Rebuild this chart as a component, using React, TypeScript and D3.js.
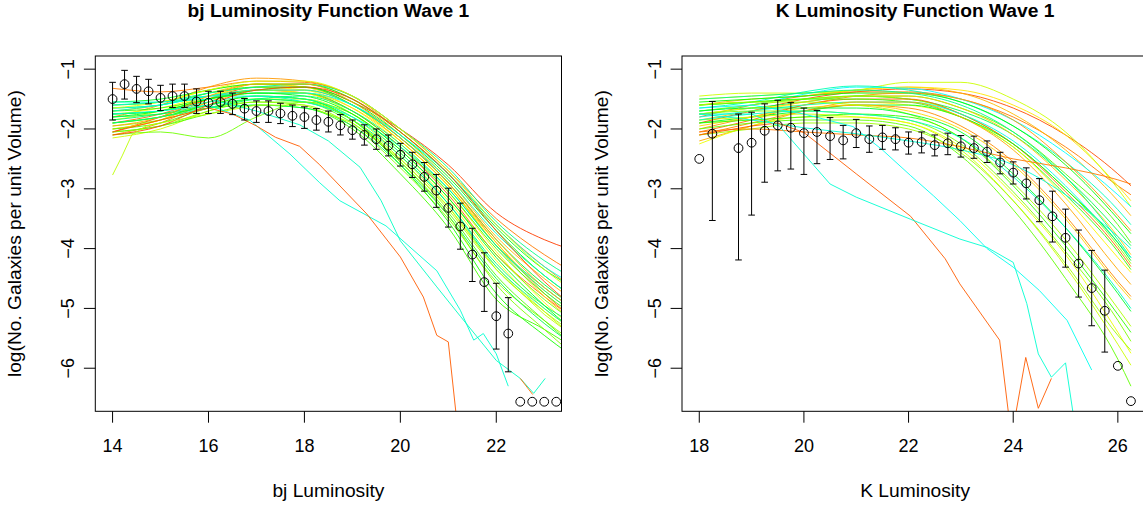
import React from 'react';
import * as d3 from 'd3';

// ---------- axes ----------
const yTicks = [-1, -2, -3, -4, -5, -6];
const bjTicks = [14, 16, 18, 20, 22];
const kTicks = [18, 20, 22, 24, 26];

// ---------- bj panel: model runs on a common grid ----------
const bjGrid = [14, 15, 16, 17, 18, 19, 20, 21, 22, 23, 23.5];
const bjRuns: number[][] = [
  [-2.05, -1.8, -1.5, -1.3, -1.3, -1.55, -2.0, -2.6, -3.4, -3.85, -4.0],
  [-1.32, -1.38, -1.3, -1.2, -1.22, -1.45, -2.0, -2.7, -3.5, -4.1, -4.35],
  [-1.8, -1.6, -1.3, -1.15, -1.2, -1.45, -2.05, -2.75, -3.6, -4.3, -4.6],
  [-2.0, -1.85, -1.5, -1.25, -1.25, -1.5, -2.1, -2.85, -3.8, -4.5, -4.8],
  [-1.7, -1.6, -1.4, -1.25, -1.3, -1.6, -2.2, -2.95, -3.95, -4.65, -4.95],
  [-2.1, -1.9, -1.55, -1.35, -1.35, -1.6, -2.15, -2.9, -3.9, -4.75, -5.1],
  [-1.9, -1.75, -1.5, -1.35, -1.4, -1.7, -2.3, -3.1, -4.1, -4.8, -5.1],
  [-1.6, -1.55, -1.35, -1.25, -1.3, -1.6, -2.2, -2.95, -3.9, -4.7, -5.0],
  [-1.85, -1.7, -1.45, -1.3, -1.35, -1.65, -2.25, -3.05, -4.05, -4.9, -5.25],
  [-2.0, -1.85, -1.55, -1.4, -1.4, -1.65, -2.2, -2.95, -3.95, -4.8, -5.15],
  [-1.75, -1.65, -1.45, -1.35, -1.4, -1.75, -2.4, -3.2, -4.2, -5.0, -5.3],
  [-1.9, -1.8, -1.6, -1.45, -1.5, -1.85, -2.5, -3.35, -4.35, -5.05, -5.35],
  [-2.15, -2.0, -1.7, -1.5, -1.5, -1.8, -2.45, -3.3, -4.3, -5.05, -5.4],
  [-1.95, -1.85, -1.65, -1.55, -1.6, -1.95, -2.65, -3.5, -4.55, -5.2, -5.5],
  [-2.1, -2.05, -2.15, -1.8, -1.55, -1.75, -2.35, -3.15, -4.1, -4.85, -5.15],
  [-1.7, -1.65, -1.5, -1.4, -1.4, -1.7, -2.3, -3.05, -4.0, -4.75, -5.05],
  [-1.8, -1.7, -1.5, -1.35, -1.3, -1.55, -2.1, -2.8, -3.7, -4.45, -4.75],
  [-2.0, -1.9, -1.65, -1.5, -1.55, -1.9, -2.55, -3.4, -4.45, -5.2, -5.55],
  [-1.55, -1.5, -1.35, -1.25, -1.25, -1.5, -2.05, -2.75, -3.65, -4.35, -4.6],
  [-1.9, -1.8, -1.6, -1.45, -1.5, -1.85, -2.6, -3.55, -4.75, -5.45, -5.75],
  [-2.05, -1.95, -1.75, -1.6, -1.65, -2.0, -2.75, -3.65, -4.85, -5.35, -5.6],
  [-1.65, -1.6, -1.4, -1.3, -1.3, -1.6, -2.15, -2.9, -3.85, -4.6, -4.9],
  [-1.6, -1.55, -1.4, -1.3, -1.25, -1.45, -2.0, -2.65, -3.55, -4.2, -4.45],
  [-1.7, -1.6, -1.45, -1.35, -1.35, -1.6, -2.15, -2.85, -3.75, -4.45, -4.75],
  [-1.65, -1.6, -1.45, -1.4, -1.4, -1.6, -2.1, -2.75, -3.6, -4.3, -4.55],
  [-1.75, -1.7, -1.55, -1.45, -1.5, -1.8, -2.4, -3.25, -4.3, -5.0, -5.3],
  [-1.85, -1.75, -1.6, -1.5, -1.55, -1.85, -2.45, -3.25, -4.25, -4.95, -5.2],
  [-1.55, -1.55, -1.45, -1.45, -1.55, -1.8, -2.3, -3.0, -3.95, -4.65, -4.95],
  [-1.8, -1.75, -1.65, -1.6, -1.65, -1.95, -2.6, -3.45, -4.5, -5.25, -5.55],
  [-1.65, -1.55, -1.35, -1.2, -1.2, -1.45, -2.0, -2.7, -3.6, -4.35, -4.65],
  [-1.75, -1.7, -1.5, -1.4, -1.45, -1.75, -2.35, -3.15, -4.15, -4.95, -5.3],
  [-1.95, -1.8, -1.45, -1.25, -1.25, -1.55, -2.15, -2.9, -3.85, -4.65, -4.95],
  [-2.05, -1.95, -1.7, -1.55, -1.55, -1.85, -2.55, -3.45, -4.6, -5.35, -5.7],
  [-1.9, -1.8, -1.65, -1.5, -1.45, -1.7, -2.25, -3.0, -3.95, -4.7, -5.0],
  [-2.1, -1.95, -1.6, -1.35, -1.3, -1.5, -2.05, -2.75, -3.7, -4.55, -4.9],
];
const bjHues = [0.04, 0.08, 0.10, 0.12, 0.13, 0.09, 0.07, 0.15, 0.16, 0.14, 0.17, 0.22, 0.20, 0.24,
  0.26, 0.30, 0.33, 0.28, 0.35, 0.32, 0.29, 0.36, 0.42, 0.45, 0.48, 0.44, 0.40, 0.47, 0.38,
  0.19, 0.34, 0.11, 0.25, 0.41, 0.05];

// bj panel: runs that leave the bundle (own x positions)
const bjOddRuns: [number, number][][] = [
  [[14, -2.77], [14.2, -2.45], [14.4, -2.1], [14.7, -1.95], [15, -1.9], [16, -1.75], [17, -1.6], [18, -1.6], [19, -1.9], [20, -2.5], [21, -3.3], [22, -4.35], [23, -5.1], [23.5, -5.4]],
  [[14, -1.75], [15, -1.7], [16, -1.6], [16.86, -1.85], [17.7, -2.42], [18.32, -2.9], [18.74, -3.2], [19.7, -3.62], [20.76, -4.37], [21.25, -5.03], [21.53, -5.53], [21.73, -5.42], [22.0, -5.76], [22.25, -6.3]],
  [[14, -1.6], [15, -1.55], [16, -1.5], [17, -1.7], [17.9, -1.93], [18.5, -2.2], [19.16, -2.64], [19.6, -3.2], [20, -3.87], [20.76, -4.64], [21.25, -5.13], [22.0, -5.87], [22.5, -6.17], [22.78, -6.42], [23.02, -6.17]],
  [[14, -2.05], [15, -1.85], [16, -1.65], [16.5, -1.75], [17, -1.95], [17.4, -2.14], [17.9, -2.29], [18.32, -2.6], [19.3, -3.42], [20, -4.14], [20.48, -4.81], [20.76, -5.45], [21, -5.56], [21.18, -6.9]],
  [[22.5, -6.17], [22.76, -6.44]],
];
const bjOddHues = [0.21, 0.47, 0.46, 0.06, 0.07];

// bj panel: observed luminosity function
const bjObsX = [14, 14.25, 14.5, 14.75, 15, 15.25, 15.5, 15.75, 16, 16.25, 16.5, 16.75, 17, 17.25, 17.5, 17.75,
  18, 18.25, 18.5, 18.75, 19, 19.25, 19.5, 19.75, 20, 20.25, 20.5, 20.75, 21, 21.25, 21.5, 21.75, 22, 22.25,
  22.5, 22.75, 23, 23.25];
const bjObsY = [-1.50, -1.25, -1.33, -1.37, -1.48, -1.45, -1.45, -1.54, -1.56, -1.55, -1.58, -1.66, -1.70, -1.70,
  -1.74, -1.78, -1.80, -1.85, -1.88, -1.94, -2.02, -2.10, -2.17, -2.28, -2.43, -2.59, -2.80, -3.03, -3.32, -3.63,
  -4.10, -4.56, -5.13, -5.42, -6.56, -6.56, -6.56, -6.56];
const bjObsHi: (number | null)[] = [-1.22, -1.02, -1.12, -1.17, -1.27, -1.25, -1.25, -1.33, -1.37, -1.37, -1.40, -1.49,
  -1.53, -1.53, -1.57, -1.60, -1.63, -1.66, -1.70, -1.76, -1.85, -1.93, -2.00, -2.10, -2.24, -2.39, -2.56, -2.76,
  -2.99, -3.24, -3.66, -4.07, -4.58, -4.82, null, null, null, null];
const bjObsLo: (number | null)[] = [-1.85, -1.50, -1.56, -1.58, -1.69, -1.64, -1.64, -1.74, -1.74, -1.74, -1.76, -1.85,
  -1.89, -1.89, -1.91, -1.96, -1.99, -2.02, -2.05, -2.10, -2.17, -2.27, -2.34, -2.45, -2.62, -2.81, -3.04, -3.31,
  -3.64, -4.01, -4.55, -5.05, -5.68, -6.06, null, null, null, null];

// ---------- K panel ----------
const kGrid = [18, 19, 20, 21, 22, 23, 24, 25, 26, 26.25];
const kRuns: number[][] = [
  [-1.9, -1.7, -1.5, -1.38, -1.33, -1.4, -1.65, -2.1, -2.75, -2.95],
  [-1.8, -1.6, -1.45, -1.38, -1.38, -1.5, -1.8, -2.3, -2.95, -3.1],
  [-1.6, -1.5, -1.45, -1.35, -1.3, -1.4, -1.75, -2.35, -3.2, -3.45],
  [-1.5, -1.45, -1.4, -1.35, -1.3, -1.35, -1.6, -2.1, -2.95, -3.2],
  [-1.45, -1.4, -1.4, -1.35, -1.22, -1.22, -1.5, -2.05, -3.0, -3.3],
  [-1.7, -1.6, -1.42, -1.3, -1.32, -1.5, -1.85, -2.4, -3.1, -3.3],
  [-1.65, -1.55, -1.38, -1.28, -1.35, -1.55, -1.95, -2.55, -3.35, -3.6],
  [-1.55, -1.5, -1.45, -1.4, -1.4, -1.55, -1.95, -2.6, -3.5, -3.75],
  [-2.0, -1.8, -1.6, -1.45, -1.4, -1.5, -1.85, -2.55, -3.45, -3.7],
  [-1.6, -1.55, -1.5, -1.45, -1.45, -1.65, -2.05, -2.75, -3.6, -3.9],
  [-1.75, -1.65, -1.55, -1.45, -1.5, -1.7, -2.1, -2.8, -3.7, -3.95],
  [-1.85, -1.7, -1.55, -1.45, -1.45, -1.65, -2.1, -2.85, -3.8, -4.1],
  [-1.5, -1.45, -1.4, -1.35, -1.4, -1.6, -2.05, -2.8, -3.85, -4.15],
  [-1.7, -1.6, -1.5, -1.45, -1.5, -1.75, -2.25, -3.0, -3.95, -4.25],
  [-2.05, -1.85, -1.6, -1.5, -1.5, -1.75, -2.25, -3.05, -4.0, -4.3],
  [-1.6, -1.55, -1.5, -1.5, -1.55, -1.8, -2.3, -3.1, -4.05, -4.35],
  [-1.75, -1.65, -1.6, -1.55, -1.6, -1.8, -2.3, -3.15, -4.15, -4.4],
  [-1.8, -1.7, -1.6, -1.55, -1.55, -1.75, -2.2, -2.95, -3.9, -4.15],
  [-1.9, -1.8, -1.7, -1.6, -1.6, -1.8, -2.25, -3.0, -3.9, -4.2],
  [-2.2, -1.95, -1.7, -1.55, -1.55, -1.8, -2.35, -3.25, -4.35, -4.6],
  [-2.1, -1.9, -1.7, -1.6, -1.65, -1.95, -2.55, -3.45, -4.55, -4.8],
  [-1.95, -1.8, -1.65, -1.6, -1.7, -2.0, -2.6, -3.5, -4.6, -4.85],
  [-1.6, -1.55, -1.55, -1.6, -1.75, -2.15, -2.9, -3.85, -5.0, -5.3],
  [-1.75, -1.7, -1.7, -1.75, -1.85, -2.25, -3.05, -4.05, -5.2, -5.55],
  [-1.85, -1.8, -1.75, -1.8, -1.9, -2.35, -3.2, -4.3, -5.6, -5.95],
  [-2.0, -1.9, -1.85, -1.85, -1.95, -2.45, -3.35, -4.5, -5.85, -6.3],
  [-2.25, -1.95, -1.8, -1.8, -1.9, -2.3, -3.1, -4.1, -5.4, -5.75],
  [-1.9, -1.85, -1.8, -1.75, -1.8, -2.15, -2.95, -3.95, -5.1, -5.4],
  [-1.7, -1.65, -1.65, -1.65, -1.75, -2.05, -2.75, -3.65, -4.75, -5.05],
  [-1.85, -1.75, -1.7, -1.75, -1.85, -2.15, -2.8, -3.65, -4.7, -5.0],
  [-2.1, -2.0, -1.9, -1.9, -2.0, -2.4, -3.2, -4.25, -5.45, -5.7],
  [-2.05, -2.0, -2.05, -2.1, -2.15, -2.3, -2.5, -2.65, -2.85, -2.92],
  [-1.75, -1.85, -1.98, -2.08, -2.2, -2.35, -2.6, -3.1, -3.8, -4.0],
];
const kHues = [0.05, 0.08, 0.12, 0.15, 0.20, 0.50, 0.45, 0.33, 0.10, 0.28, 0.38, 0.13, 0.42, 0.24, 0.07,
  0.30, 0.16, 0.48, 0.35, 0.11, 0.09, 0.14, 0.22, 0.25, 0.20, 0.27, 0.18, 0.30, 0.36, 0.46, 0.23, 0.08, 0.47];

const kOddRuns: [number, number][][] = [
  [[18, -2.1], [19, -1.95], [19.5, -1.9], [20, -2.06], [21, -2.75], [22.04, -3.46], [22.7, -4.17], [22.98, -4.59], [23.74, -5.53], [23.93, -6.9], [24.02, -6.9], [24.24, -5.82], [24.48, -6.67], [24.73, -6.17]],
  [[18, -1.75], [19, -1.75], [19.54, -1.96], [20.5, -2.92], [21.0, -3.14], [22.04, -3.51], [22.98, -3.84], [23.5, -3.98], [24, -4.23], [24.26, -4.92], [24.48, -5.76], [24.73, -6.15], [25.0, -5.91], [25.17, -6.9]],
  [[18, -1.65], [19, -1.6], [20, -1.75], [20.94, -1.96], [21.5, -2.35], [22.04, -2.78], [22.48, -3.12], [22.98, -3.53], [23.5, -4.0], [24, -4.31], [24.5, -4.7], [25.03, -5.2], [25.5, -6.03]],
];
const kOddHues = [0.06, 0.47, 0.49];

const kObsX = [18, 18.25, 18.75, 19, 19.25, 19.5, 19.75, 20, 20.25, 20.5, 20.75, 21, 21.25, 21.5, 21.75, 22,
  22.25, 22.5, 22.75, 23, 23.25, 23.5, 23.75, 24, 24.25, 24.5, 24.75, 25, 25.25, 25.5, 25.75, 26, 26.25];
const kObsY = [-2.50, -2.08, -2.32, -2.23, -2.03, -1.94, -1.98, -2.07, -2.05, -2.12, -2.19, -2.07, -2.17, -2.14,
  -2.17, -2.23, -2.22, -2.27, -2.24, -2.29, -2.32, -2.38, -2.56, -2.73, -2.91, -3.19, -3.46, -3.82, -4.25, -4.66,
  -5.04, -5.96, -6.55];
const kObsHi: (number | null)[] = [null, -1.54, -1.75, -1.72, -1.58, -1.52, -1.56, -1.65, -1.69, -1.81, -1.94, -1.84,
  -1.95, -1.94, -1.98, -2.05, -2.05, -2.10, -2.07, -2.11, -2.12, -2.20, -2.39, -2.55, -2.65, -2.83, -3.04, -3.34,
  -3.69, -4.03, -4.36, null, null];
const kObsLo: (number | null)[] = [null, -3.53, -4.19, -3.44, -2.89, -2.70, -2.67, -2.76, -2.58, -2.51, -2.50, -2.31,
  -2.39, -2.34, -2.35, -2.42, -2.40, -2.45, -2.43, -2.47, -2.49, -2.56, -2.75, -2.92, -3.17, -3.55, -3.89, -4.31,
  -4.81, -5.29, -5.73, null, null];

// ---------- layout ----------
const W = 1143;
const H = 505;
const TOP = 56;
const BOTTOM = 411.3;
const Y_DOMAIN: [number, number] = [-6.72, -0.78];
const FONT = '"Liberation Sans", Arial, Helvetica, sans-serif';

type PanelProps = {
  id: string;
  left: number;
  right: number;
  xDomain: [number, number];
  xTicks: number[];
  grid: number[];
  runs: number[][];
  hues: number[];
  oddRuns: [number, number][][];
  oddHues: number[];
  obsX: number[];
  obsY: number[];
  obsHi: (number | null)[];
  obsLo: (number | null)[];
  title: string;
  xlabel: string;
};

function Panel(p: PanelProps) {
  const x = d3.scaleLinear().domain(p.xDomain).range([p.left, p.right]);
  const y = d3.scaleLinear().domain(Y_DOMAIN).range([BOTTOM, TOP]);
  const smooth = d3
    .line<[number, number]>()
    .x((d) => x(d[0]))
    .y((d) => y(d[1]))
    .curve(d3.curveMonotoneX);
  const straight = d3
    .line<[number, number]>()
    .x((d) => x(d[0]))
    .y((d) => y(d[1]));
  const col = (h: number) => d3.hsl(h * 360, 1, 0.5).formatHex();
  const cx = (p.left + p.right) / 2;
  const cy = (TOP + BOTTOM) / 2;
  const cap = 3.3;
  return (
    <g>
      <defs>
        <clipPath id={p.id}>
          <rect x={p.left} y={TOP} width={p.right - p.left} height={BOTTOM - TOP} />
        </clipPath>
      </defs>
      <g clipPath={`url(#${p.id})`} fill="none" strokeWidth={1} strokeOpacity={0.9}>
        {p.runs.map((r, i) => (
          <path
            key={'r' + i}
            d={smooth(r.map((v, j) => [p.grid[j], v] as [number, number])) || ''}
            stroke={col(p.hues[i])}
          />
        ))}
        {p.oddRuns.map((r, i) => (
          <path key={'o' + i} d={straight(r) || ''} stroke={col(p.oddHues[i])} />
        ))}
      </g>
      <g stroke="#000" strokeWidth={1} fill="none">
        {p.obsX.map((xv, i) => {
          const hi = p.obsHi[i];
          const lo = p.obsLo[i];
          if (hi === null || lo === null) return null;
          const px = x(xv);
          return (
            <g key={'e' + i}>
              <line x1={px} x2={px} y1={y(hi)} y2={y(lo)} />
              <line x1={px - cap} x2={px + cap} y1={y(hi)} y2={y(hi)} />
              <line x1={px - cap} x2={px + cap} y1={y(lo)} y2={y(lo)} />
            </g>
          );
        })}
        {p.obsX.map((xv, i) => (
          <circle key={'c' + i} cx={x(xv)} cy={y(p.obsY[i])} r={4.4} />
        ))}
      </g>
      <rect x={p.left} y={TOP} width={p.right - p.left} height={BOTTOM - TOP} fill="none" stroke="#000" strokeWidth={1} />
      <g stroke="#000" strokeWidth={1}>
        {p.xTicks.map((t) => (
          <line key={'xt' + t} x1={x(t)} x2={x(t)} y1={BOTTOM} y2={BOTTOM + 11.4} />
        ))}
        {yTicks.map((t) => (
          <line key={'yt' + t} x1={p.left} x2={p.left - 11.4} y1={y(t)} y2={y(t)} />
        ))}
      </g>
      <g fontFamily={FONT} fill="#000" textAnchor="middle">
        {p.xTicks.map((t) => (
          <text key={'xl' + t} x={x(t)} y={452} fontSize={18}>
            {String(t)}
          </text>
        ))}
        {yTicks.map((t) => (
          <text key={'yl' + t} transform={`translate(${p.left - 21.3},${y(t)}) rotate(-90)`} fontSize={18}>
            {'\u2212' + String(Math.abs(t))}
          </text>
        ))}
        <text x={cx} y={497} fontSize={19.2}>
          {p.xlabel}
        </text>
        <text transform={`translate(${p.left - 74.3},${cy}) rotate(-90)`} fontSize={19.2}>
          log(No. Galaxies per unit Volume)
        </text>
        <text x={cx} y={17.3} fontWeight="bold" fontSize={19.2}>
          {p.title}
        </text>
      </g>
    </g>
  );
}

export default function App() {
  return (
    <svg
      width={W}
      height={H}
      viewBox={`0 0 ${W} ${H}`}
      style={{ position: 'absolute', left: 0, top: 0, background: '#fff' }}
    >
      <rect x={0} y={0} width={W} height={H} fill="#fff" />
      <Panel
        id="clipBj"
        left={95.3}
        right={561.5}
        xDomain={[13.64, 23.36]}
        xTicks={bjTicks}
        grid={bjGrid}
        runs={bjRuns}
        hues={bjHues}
        oddRuns={bjOddRuns}
        oddHues={bjOddHues}
        obsX={bjObsX}
        obsY={bjObsY}
        obsHi={bjObsHi}
        obsLo={bjObsLo}
        title="bj Luminosity Function Wave 1"
        xlabel="bj Luminosity"
      />
      <Panel
        id="clipK"
        left={682}
        right={1148.2}
        xDomain={[17.67, 26.58]}
        xTicks={kTicks}
        grid={kGrid}
        runs={kRuns}
        hues={kHues}
        oddRuns={kOddRuns}
        oddHues={kOddHues}
        obsX={kObsX}
        obsY={kObsY}
        obsHi={kObsHi}
        obsLo={kObsLo}
        title="K Luminosity Function Wave 1"
        xlabel="K Luminosity"
      />
    </svg>
  );
}
